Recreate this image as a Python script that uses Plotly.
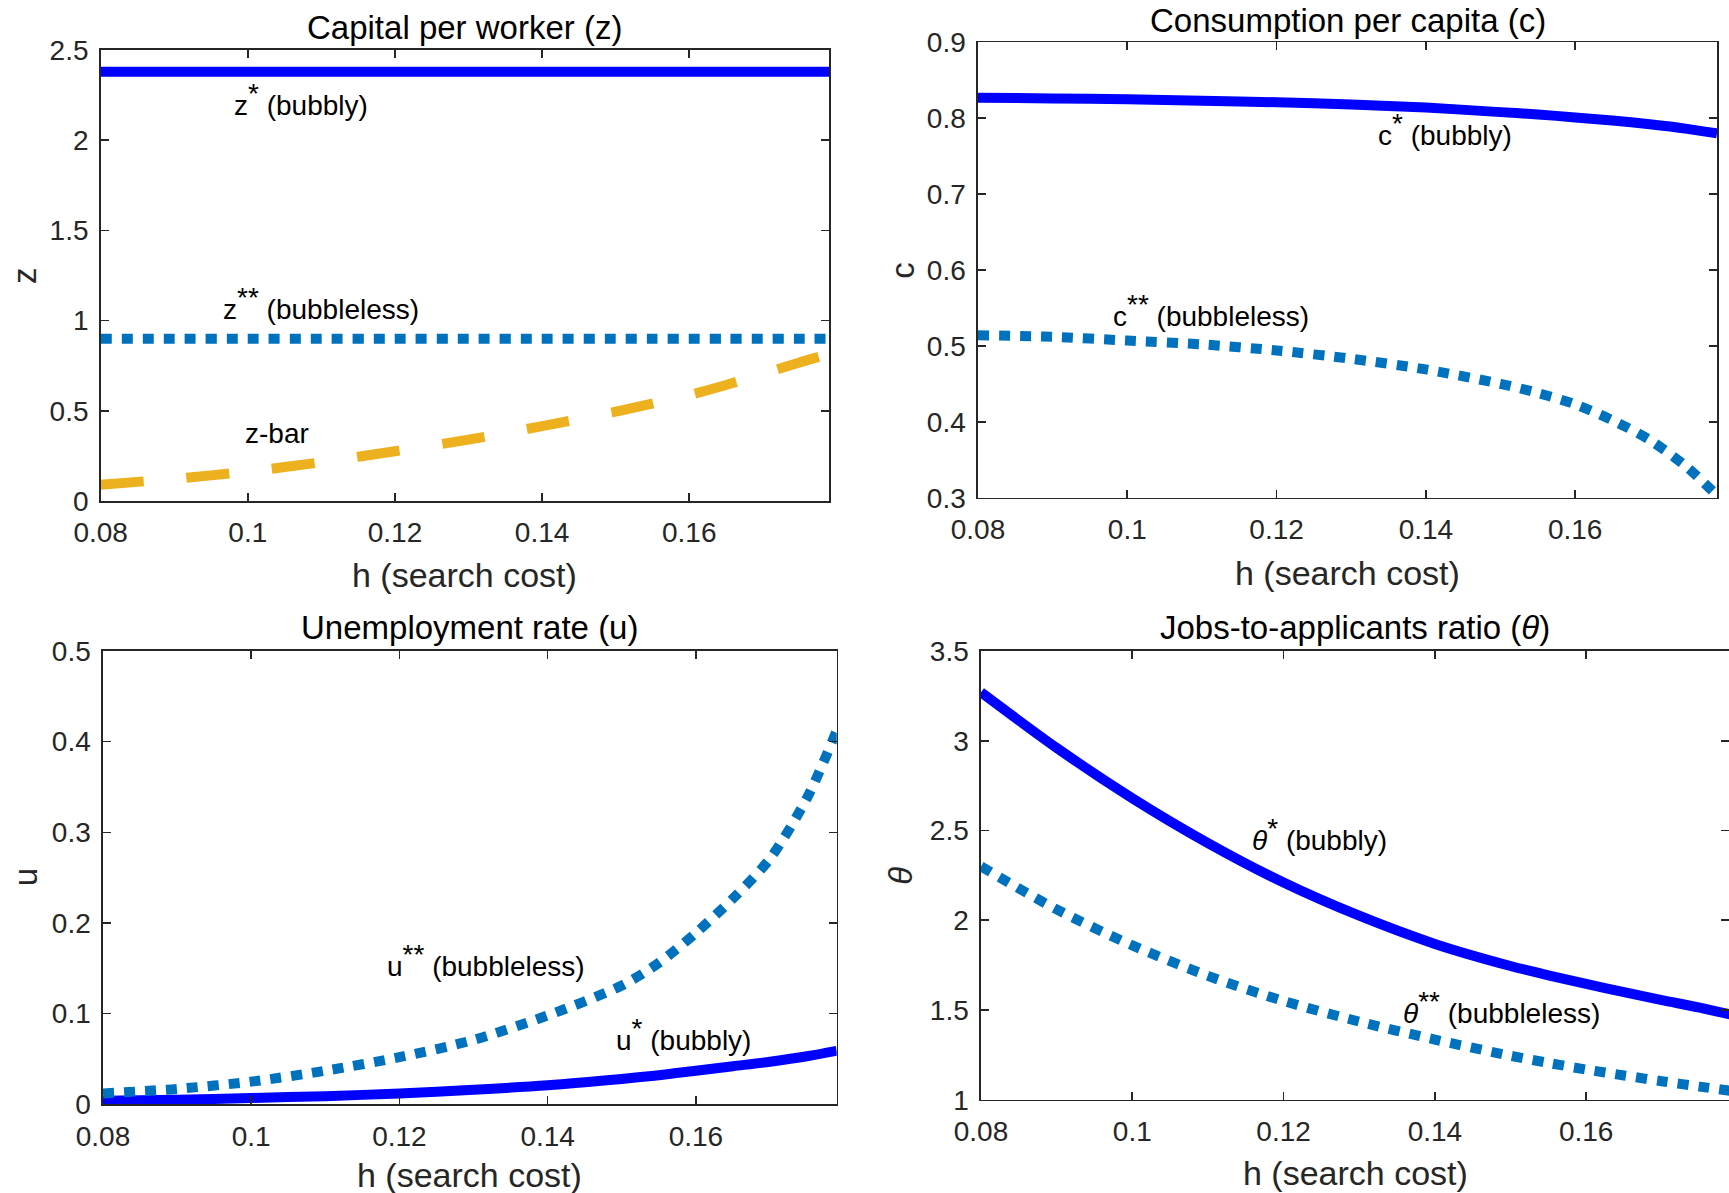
import plotly.graph_objects as go

# ---------------- data ----------------
h = [0.08, 0.09, 0.10, 0.11, 0.12, 0.13, 0.14, 0.15, 0.155, 0.16, 0.165, 0.17, 0.175, 0.179]

z_star = [2.38] * len(h)
z_2star = [0.90] * len(h)
z_bar = [0.090, 0.123, 0.163, 0.215, 0.276, 0.340, 0.415, 0.495, 0.540, 0.587, 0.643, 0.705, 0.768, 0.815]

c_star = [0.827, 0.826, 0.825, 0.823, 0.821, 0.818, 0.814, 0.808, 0.805, 0.801, 0.797, 0.792, 0.786, 0.780]
c_2star = [0.514, 0.512, 0.507, 0.502, 0.494, 0.483, 0.469, 0.450, 0.438, 0.423, 0.402, 0.376, 0.340, 0.303]

u_star = [0.004, 0.005, 0.007, 0.009, 0.012, 0.016, 0.021, 0.028, 0.032, 0.037, 0.042, 0.047, 0.053, 0.059]
u_2star = [0.012, 0.017, 0.025, 0.037, 0.052, 0.071, 0.098, 0.131, 0.156, 0.189, 0.227, 0.271, 0.338, 0.412]

th_star = [3.27, 2.96, 2.68, 2.43, 2.21, 2.025, 1.868, 1.745, 1.693, 1.645, 1.599, 1.555, 1.513, 1.475]
th_2star = [2.30, 2.06, 1.86, 1.69, 1.55, 1.435, 1.335, 1.245, 1.205, 1.168, 1.135, 1.103, 1.073, 1.050]

x_ticks = [0.08, 0.10, 0.12, 0.14, 0.16]
x_ticktext = ["0.08", "0.1", "0.12", "0.14", "0.16"]
z_ticks = [0, 0.5, 1, 1.5, 2, 2.5]
z_ticktext = ["0", "0.5", "1", "1.5", "2", "2.5"]
c_ticks = [0.3, 0.4, 0.5, 0.6, 0.7, 0.8, 0.9]
c_ticktext = ["0.3", "0.4", "0.5", "0.6", "0.7", "0.8", "0.9"]
u_ticks = [0, 0.1, 0.2, 0.3, 0.4, 0.5]
u_ticktext = ["0", "0.1", "0.2", "0.3", "0.4", "0.5"]
th_ticks = [1, 1.5, 2, 2.5, 3, 3.5]
th_ticktext = ["1", "1.5", "2", "2.5", "3", "3.5"]

titles = ["Capital per worker (z)", "Consumption per capita (c)",
          "Unemployment rate (u)", "Jobs-to-applicants ratio (<i>θ</i>)"]
ylabels = ["z", "c", "u", "<i>θ</i>"]
xlabel = "h (search cost)"

# ---------------- style ----------------
W, H = 1729, 1193
FONT = "Liberation Sans"
BLUE = "#0000FF"
MBLUE = "#0072BD"
GOLD = "#EDB120"
AX = "#262626"
LW = 10
DOT = "11px,10px"
DASH = "43px,43px"

def fx(v):
    return v / W

def fy(v):
    return 1 - v / H

# panel boxes in pixels: left, right, top, bottom
boxes = [
    (100.7, 829.0, 50.0, 501.0),
    (978.0, 1717.0, 42.3, 497.7),
    (103.0, 836.7, 651.0, 1104.3),
    (981.0, 1729.0, 651.0, 1099.7),
]

fig = go.Figure()

def add(x, y, color, dash, ax):
    fig.add_trace(go.Scatter(
        x=x, y=y, mode="lines", xaxis="x" + ax, yaxis="y" + ax,
        line=dict(color=color, width=LW, dash=dash, shape="spline", smoothing=0.8),
        showlegend=False, hoverinfo="skip"))

add(h, z_star, BLUE, "solid", "")
add(h, z_2star, MBLUE, DOT, "")
add(h, z_bar, GOLD, DASH, "")
add(h, c_star, BLUE, "solid", "2")
add(h, c_2star, MBLUE, DOT, "2")
add(h, u_star, BLUE, "solid", "3")
add(h, u_2star, MBLUE, DOT, "3")
add(h, th_star, BLUE, "solid", "4")
add(h, th_2star, MBLUE, DOT, "4")

yinfo = [
    ([0, 2.5], z_ticks, z_ticktext),
    ([0.3, 0.9], c_ticks, c_ticktext),
    ([0, 0.5], u_ticks, u_ticktext),
    ([1, 3.5], th_ticks, th_ticktext),
]
xranges = [[0.08, 0.179], [0.08, 0.179], [0.08, 0.179], [0.08, 0.17888]]

common = dict(showline=True, linecolor=AX, linewidth=1.6, mirror="ticks",
              ticks="inside", ticklen=8, tickwidth=1.6, tickcolor=AX,
              showgrid=False, zeroline=False, fixedrange=True, automargin=False,
              tickfont=dict(family=FONT, size=28, color=AX))

layout = dict(width=W, height=H, margin=dict(l=0, r=0, t=0, b=0, pad=0, autoexpand=False),
              paper_bgcolor="white", plot_bgcolor="white", showlegend=False)

annotations = []
for i, (l, r, t, b) in enumerate(boxes):
    sfx = "" if i == 0 else str(i + 1)
    xd = [max(0.0, fx(l)), min(1.0, fx(r))]
    yd = [fy(b), fy(t)]
    layout["xaxis" + sfx] = dict(common, domain=xd, range=xranges[i],
                                 tickvals=x_ticks, ticktext=x_ticktext,
                                 anchor="y" + sfx, ticklabelstandoff=6)
    rng, tv, tt = yinfo[i]
    layout["yaxis" + sfx] = dict(common, domain=yd, range=rng,
                                 tickvals=tv, ticktext=tt,
                                 anchor="x" + sfx, ticklabelstandoff=5)

# titles / axis labels (pixel centres)
title_y = [27.0, 20.5, 627.6, 627.6]
xlabel_y = [575.0, 573.0, 1175.0, 1173.0]
ylabel_x = [24.5, 901.7, 25.6, 900.4]
for i, (l, r, t, b) in enumerate(boxes):
    cx = fx((l + r) / 2)
    annotations.append(dict(text=titles[i], x=cx, y=fy(title_y[i]), xref="paper", yref="paper",
                            xanchor="center", yanchor="middle", showarrow=False, borderpad=0,
                            font=dict(family=FONT, size=33, color="black")))
    annotations.append(dict(text=xlabel, x=cx, y=fy(xlabel_y[i]), xref="paper", yref="paper",
                            xanchor="center", yanchor="middle", showarrow=False, borderpad=0,
                            font=dict(family=FONT, size=34, color=AX)))
    annotations.append(dict(text=ylabels[i], x=fx(ylabel_x[i]), y=fy((t + b) / 2),
                            xref="paper", yref="paper", textangle=-90, borderpad=0,
                            xanchor="center", yanchor="middle", showarrow=False,
                            font=dict(family=FONT, size=33, color=AX)))

S1 = '<sup><span style="font-size:28px">*</span></sup>'
S2 = '<sup><span style="font-size:28px">**</span></sup>'
# in-plot labels (data coordinates)
labels = [
    ("z" + S1 + " (bubbly)", 0.0978, 2.224, ""),
    ("z" + S2 + " (bubbleless)", 0.0963, 1.094, ""),
    ("z-bar", 0.0993, 0.375, ""),
    ("c" + S1 + " (bubbly)", 0.1333, 0.785, "2"),
    ("c" + S2 + " (bubbleless)", 0.0978, 0.546, "2"),
    ("u" + S2 + " (bubbleless)", 0.1181, 0.159, "3"),
    ("u" + S1 + " (bubbly)", 0.1489, 0.0775, "3"),
    ("<i>θ</i>" + S1 + " (bubbly)", 0.1155, 2.478, "4"),
    ("<i>θ</i>" + S2 + " (bubbleless)", 0.1355, 1.514, "4"),
]
for txt, x, y, sfx in labels:
    annotations.append(dict(text=txt, x=x, y=y, xref="x" + sfx, yref="y" + sfx,
                            xanchor="left", yanchor="middle", showarrow=False,
                            font=dict(family=FONT, size=28, color="black")))

layout["annotations"] = annotations
fig.update_layout(**layout)
fig.write_html("out.html",
               config={"displayModeBar": False, "staticPlot": True},
               post_script="document.body.style.margin='0';document.body.style.overflow='hidden';")
